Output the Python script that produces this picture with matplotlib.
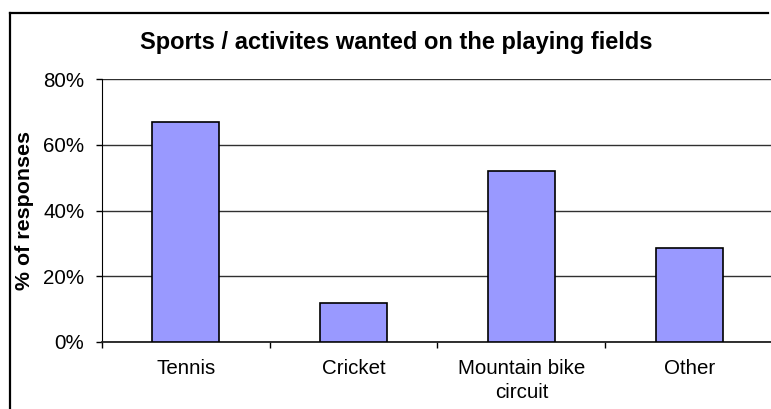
import matplotlib
matplotlib.use("Agg")
import matplotlib.pyplot as plt
from matplotlib.lines import Line2D
from matplotlib.ticker import PercentFormatter, FixedLocator

categories = ["Tennis", "Cricket", "Mountain bike\ncircuit", "Other"]
values = [0.669, 0.117, 0.521, 0.286]
yticks = [0.0, 0.2, 0.4, 0.6, 0.8]
title = "Sports / activites wanted on the playing fields"
ylabel = "% of responses"

plt.rcParams['font.family'] = ['Liberation Sans', 'DejaVu Sans']

W, H = 771, 409
fig = plt.figure(figsize=(W / 100, H / 100), dpi=100)
ax = fig.add_axes([101.7 / W, 1 - 341.7 / H, (770.9 - 101.7) / W, (341.7 - 79.3) / H])

x = list(range(len(categories)))
ax.bar(x, values, width=0.4, color="#9999FF", edgecolor="black", linewidth=1.2, zorder=3)

ax.set_xlim(-0.5, len(categories) - 0.5 - 0.014)
ax.set_ylim(0, 0.8)
ax.set_yticks(yticks)
ax.yaxis.set_major_formatter(PercentFormatter(1.0, decimals=0))
ax.grid(axis="y", color="#303030", linewidth=1.0, zorder=1)

ax.xaxis.set_major_locator(FixedLocator([i - 0.5 for i in range(len(categories))]))
ax.xaxis.set_minor_locator(FixedLocator(x))
ax.set_xticklabels([])
ax.set_xticklabels(categories, minor=True, linespacing=1.32)
ax.tick_params(axis="x", which="minor", length=0, pad=12.5, labelsize=14.8)
ax.tick_params(axis="x", which="major", length=4.5, width=1, color="black")
ax.tick_params(axis="y", length=4.5, width=1, pad=8, labelsize=14.8, colors="black")

for s in ["top", "right"]:
    ax.spines[s].set_visible(False)
ax.spines["left"].set_color("black")
ax.spines["bottom"].set_color("#202020")
ax.spines["bottom"].set_linewidth(1.3)

fig.text(396 / W, 1 - 42 / H, title, ha="center", va="center", fontsize=17, fontweight="bold")
fig.text(25 / W, 1 - 211 / H, ylabel, ha="center", va="center", rotation=90, fontsize=15.4, fontweight="bold")

fx, fy = 9.5 / W, 1 - 12.5 / H
fig.lines.append(Line2D([fx, fx], [0, fy], transform=fig.transFigure, color="black", linewidth=1.6))
fig.lines.append(Line2D([fx, (W - 3) / W], [fy, fy], transform=fig.transFigure, color="black", linewidth=1.6))

fig.savefig("out.png", dpi=100)
